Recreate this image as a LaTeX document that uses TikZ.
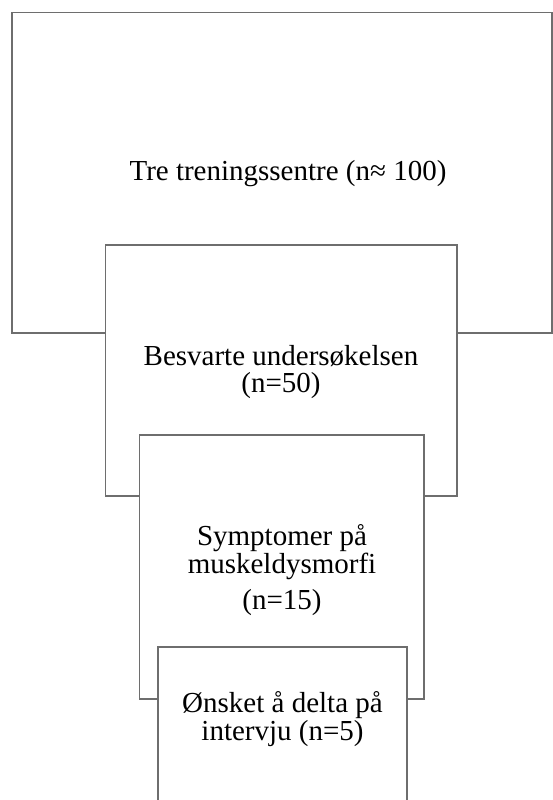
\documentclass[tikz,border=0pt]{standalone}
\usepackage{fontspec}
\setmainfont{Liberation Serif}
\definecolor{framegray}{HTML}{6E6E6E}
\begin{document}
\begin{tikzpicture}[x=1pt, y=-1pt,
  stage/.style={draw=framegray, line width=1.2pt, fill=white, inner sep=0pt, outer sep=0pt, anchor=north west},
  caption/.style={font=\fontsize{29}{26.5}\selectfont, align=center, inner sep=0pt, text=black}]
  \useasboundingbox (0,0) rectangle (553,800);
  \clip (0,0) rectangle (553,800);
  % nested funnel of recruitment stages, each drawn over the previous one
  \node[stage, minimum width=540pt, minimum height=320.5pt] (centres) at (12,12.5) {};
  \node[caption] (centrestext) at (288,174) {Tre treningssentre (n≈ 100)};
  \node[stage, minimum width=351.5pt, minimum height=251pt] (survey) at (105.5,245) {};
  \node[caption] (surveytext) at (281,372) {Besvarte undersøkelsen\\(n=50)};
  \node[stage, minimum width=284.5pt, minimum height=264pt] (symptoms) at (139.5,435) {};
  \node[caption] (symptomstext) at (282,570) {Symptomer på\\muskeldysmorfi\\[9pt](n=15)};
  \node[stage, minimum width=249pt, minimum height=170pt] (interview) at (158,647) {};
  \node[caption, font=\fontsize{29}{24}\selectfont] (interviewtext) at (282.5,719) {Ønsket å delta på\\intervju (n=5)};
\end{tikzpicture}
\end{document}
